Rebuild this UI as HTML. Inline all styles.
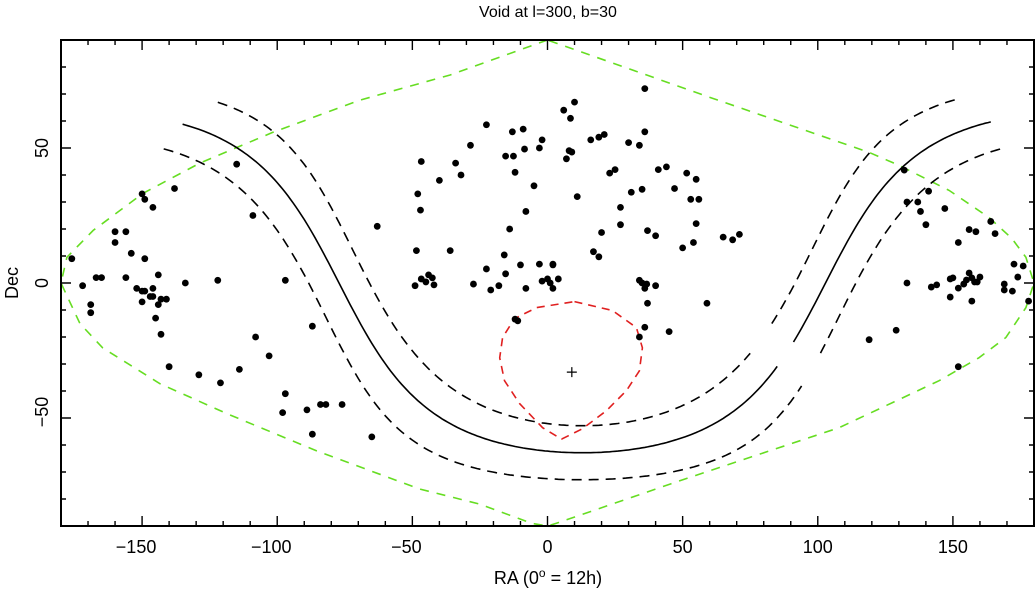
<!DOCTYPE html>
<html><head><meta charset="utf-8"><style>
html,body{margin:0;padding:0;background:#fff;}
svg{display:block;font-family:"Liberation Sans",sans-serif;}
</style></head><body>
<svg id="chart" width="1036" height="589" viewBox="0 0 1036 589" xmlns="http://www.w3.org/2000/svg">
<text x="548" y="17" font-size="16" text-anchor="middle" fill="#000">Void at l=300, b=30</text>
<g id="plot"></g>
<rect x="61" y="40" width="973" height="486" fill="none" stroke="#000" stroke-width="2"/>
<g id="axes"></g>
<text x="548" y="584" font-size="18" text-anchor="middle" fill="#000">RA (0<tspan dy="-7" font-size="12">o</tspan><tspan dy="7"> = 12h)</tspan></text>
<text x="0" y="0" font-size="18" text-anchor="middle" fill="#000" transform="translate(18,283) rotate(-90)">Dec</text>
</svg>
<script>
const xTicks=[-150,-100,-50,0,50,100,150];
const yTicks=[-50,0,50];
const pointRA=[-115,-138,-150,-149,-146,-109,-160,-156,-160,-154,-149,-176,-144,-167,-165,-156,-97,-122,-134,-172,-152,-150,-149,-146,-147,-146,-141,-143,-150,-144,-169,-169,-145,-143,-87,-108,-103,-140,-129,-121,-114,-97,-84,-82,-76,-98,-89,-87,-65,-63,
36,10,6,8.5,-22.6,-13,-9,36,21,19,16,-2,30,34,-28.5,-3,-8.5,8,9,-15.5,-12.6,7,-46.7,-34,25,23,41,44,-12,-32,51.5,55,-40,-5,47,35,31,-48,11,53,56,27,-47,-8,55,27,-14,20,37,40,65,68.5,71,50,54,-48.5,-36,-16,17,19,-10,-3,2,2,-22.6,-15.5,-46.7,-44,-42.6,-45,-49,-42,-27.4,-21,-18,-8,-2,0,1,4,2,34,35,36.7,36,40,37,59,-12,-11,36,45,34,
132,141,133,137,138,147,140,164,156,158.5,165.6,152,172.6,176,174,133,156,149,150,155,142,144,152,154,157,160,158,159,169,169,172,149,157,178,129,119,152];
const pointDec=[44,35,33,31,28,25,19,19,15,11,9,9,3,2,2,2,1,1,0,-1,-2,-3,-3,-2,-5,-5,-6,-6,-7,-8,-8,-11,-13,-19,-16,-20,-27,-31,-34,-37,-32,-41,-45,-45,-45,-48,-47,-56,-57,21,
72,67,64,61,58.6,56,57,56,55,54,53,53,52,51,51,50,49.6,49,48.5,47,47,46,45,44.4,42,40.7,42,43,41,40,40.7,38.4,38,36,35,34.7,33.6,33,32,31,31,28,27,26.5,22,21.6,20,18.7,19.4,17.5,17,16,18,13,15,12,12,10.4,11.6,9.7,6.7,7,7,6.7,5.2,3.4,1.5,3,1.9,0.4,-1,-0.7,-0.4,-2.6,-1,-2,0.7,1.5,0,1.5,-2,1,0,-0.4,-2,-1,-7.5,-7.5,-13.4,-14,-16.4,-18,-20,
41.8,34,30,30,26.5,27.6,21.6,22.8,19.8,19,18.3,15,7,6.3,2.2,0,3.7,1.5,1.9,1.1,-1.5,-0.7,-1.9,-0.4,1.9,2.2,0.4,0.4,-0.4,-2.6,-3,-5.2,-6.7,-6.7,-17.5,-21,-31];
const voidRA=[9];
const voidDec=[-33];
const redRA=[10,24,32.9,35.1,34,29.2,21.8,12.9,5.2,-1.8,-10.3,-15.9,-17.7,-16.6,-12.2,-4,10];
const redDec=[-6.9,-10.2,-16.5,-24,-32.5,-39.9,-47.3,-54,-57.8,-53.6,-44.7,-36.2,-27.7,-20.2,-13.2,-9.1,-6.9];
const greenRA=[0,-36.2,-69.5,-101.6,-128.6,-149.7,-168.1,-177.8,-180,-173,-164.6,-143.4,-118.6,-85.4,-47.3,-25.1,-5.9,0,3.3,48.8,107.9,144.9,159.6,169.6,177,180,177,171.8,163.3,148.6,130,118.9,59.9,0];
const greenDec=[90,77,67.7,55.8,44.4,33.2,19.5,9.5,0,-15,-24,-37.3,-48.4,-62.2,-76.3,-81.9,-89,-90,-89,-73.3,-53.6,-36.2,-27.7,-20.2,-9.1,0,9.5,16.5,24.3,34.3,43.6,48.4,68.8,90];
// galactic plane / latitude curves: [latitude, raStart, raEnd] segments
const curveLat=[0,0,10,10,-10,-10];
const curveStart=[-135,91,-122,83,-142,101];
const curveEnd=[85,164,75,152,94,169];
const poleDec=27.13, poleRA=12.86;

const NS='http://www.w3.org/2000/svg';
const X0=61,X1=1034,Y0=40,Y1=526;
const xs=v=>X0+(v+180)/360*(X1-X0);
const ys=v=>Y1-(v+90)/180*(Y1-Y0);
const plot=document.getElementById('plot');
const axes=document.getElementById('axes');
function mk(tag,attrs,parent){const e=document.createElementNS(NS,tag);for(const k in attrs)e.setAttribute(k,attrs[k]);parent.appendChild(e);return e;}
function pathFrom(ra,dec){return ra.map((r,i)=>(i?'L':'M')+xs(r).toFixed(1)+' '+ys(dec[i]).toFixed(1)).join(' ');}

// green boundary
let g=mk('path',{d:pathFrom(greenRA,greenDec),fill:'none',stroke:'#66dd22','stroke-width':1.6,'stroke-dasharray':'9 8'},plot);



// curves
const D=Math.PI/180;
function decAt(ra,b){
  const A=Math.sin(poleDec*D),B=Math.cos(poleDec*D)*Math.cos((ra-poleRA)*D);
  const R=Math.hypot(A,B),phi=Math.atan2(B,A);
  let d=Math.asin(Math.sin(b*D)/R)-phi;
  if(d>Math.PI/2)d=Math.PI-Math.asin(Math.sin(b*D)/R)-phi;
  return d/D;
}
for(let i=0;i<curveLat.length;i++){
  const ra=[],dec=[];
  for(let r=curveStart[i];r<=curveEnd[i]+0.01;r+=1){ra.push(r);dec.push(decAt(r,curveLat[i]));}
  const p=mk('path',{d:pathFrom(ra,dec),fill:'none',stroke:'#000','stroke-width':1.6},plot);
  if(curveLat[i]!==0)p.setAttribute('stroke-dasharray','10 7');
  
  
}

// red void circle
let rp=mk('path',{d:pathFrom(redRA,redDec),fill:'none',stroke:'#e02020','stroke-width':1.6,'stroke-dasharray':'8 6'},plot);



// void center cross
const cx=xs(voidRA[0]),cy=ys(voidDec[0]);
let cr=mk('path',{d:`M${cx-5} ${cy}H${cx+5}M${cx} ${cy-5}V${cy+5}`,stroke:'#000','stroke-width':1.2},plot);



// points
for(let i=0;i<pointRA.length;i++){
  const c=mk('circle',{cx:xs(pointRA[i]),cy:ys(pointDec[i]),r:3.4,fill:'#000'},plot);
  
  
}

// ticks
for(let v=-170;v<=170;v+=10){
  const major=v%50===0,x=xs(v),L=major?10:5;
  const t=mk('path',{d:`M${x} ${Y1}v${-L}M${x} ${Y0}v${L}`,stroke:'#000','stroke-width':1.4},axes);
  
  
}
for(let v=-80;v<=80;v+=10){
  const major=v%50===0,y=ys(v),L=major?10:5;
  const t=mk('path',{d:`M${X0} ${y}h${L}M${X1} ${y}h${-L}`,stroke:'#000','stroke-width':1.4},axes);
  
  
}
xTicks.forEach(v=>{
  const t=mk('text',{x:xs(v)-(v<0?6:0),y:553,'font-size':18,'text-anchor':'middle',fill:'#000'},axes);
  t.textContent=(v<0?'\u2212':'')+Math.abs(v);
  
  
});
yTicks.forEach(v=>{
  const y=ys(v)+(v<0?-6:0);
  const t=mk('text',{x:0,y:0,'font-size':18,'text-anchor':'middle',fill:'#000',transform:`translate(48,${y}) rotate(-90)`},axes);
  t.textContent=(v<0?'\u2212':'')+Math.abs(v);
  
  
});
</script>
</body></html>
